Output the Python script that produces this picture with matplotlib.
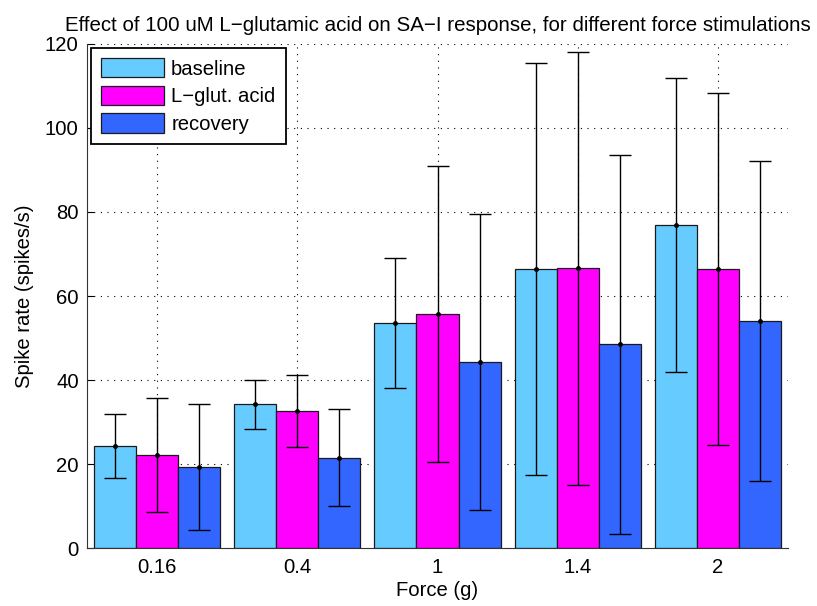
import matplotlib
matplotlib.use('Agg')
import matplotlib.pyplot as plt
import numpy as np

# force levels and mean spike rates with their standard deviations
forces = ['0.16', '0.4', '1', '1.4', '2']
series = ['baseline', 'L\u2212glut. acid', 'recovery']
baseline = [24.3, 34.2, 53.5, 66.4, 77.0]
glut = [22.2, 32.6, 55.7, 66.6, 66.5]
recovery = [19.3, 21.5, 44.3, 48.5, 54.0]
baseline_sd = [7.6, 5.9, 15.5, 49.0, 35.0]
glut_sd = [13.6, 8.6, 35.3, 51.5, 41.9]
recovery_sd = [14.9, 11.5, 35.2, 45.1, 38.1]
colors = ['#66CCFF', '#FF00FF', '#3366FF']

plt.rcParams['font.family'] = ['Liberation Sans', 'DejaVu Sans']
fs = 14.6

fig = plt.figure(figsize=(8.17, 6.06), dpi=100)
ax = fig.add_axes([0.1065, 0.0957, 0.858, 0.8317])

x = np.arange(1, len(forces) + 1)
width = 0.3
means = [baseline, glut, recovery]
sds = [baseline_sd, glut_sd, recovery_sd]
for i in range(3):
    pos = x + (i - 1) * width
    ax.bar(pos, means[i], width, color=colors[i], edgecolor='#1a1a1a',
           linewidth=0.9, label=series[i], zorder=2)
    ax.errorbar(pos, means[i], yerr=sds[i], fmt='o', color='black',
                markersize=2.5, elinewidth=1, capsize=8, capthick=1, zorder=3)

ax.set_xlim(0.5, 5.5)
ax.set_ylim(0, 120)
ax.set_xticks(x)
ax.set_xticklabels(forces)
ax.set_yticks(np.arange(0, 121, 20))
ax.tick_params(direction='in', labelsize=fs, length=5)
ax.tick_params(axis='x', pad=7)
ax.tick_params(axis='y', pad=6)
ax.grid(True, linestyle=(0, (1, 5)), color='black', linewidth=0.8)
ax.set_axisbelow(True)
for s in ['top', 'right']:
    ax.spines[s].set_visible(False)
ax.spines['left'].set_color('#333333')
ax.spines['bottom'].set_color('#333333')

ax.set_xlabel('Force (g)', fontsize=fs, labelpad=3)
ax.set_ylabel('Spike rate (spikes/s)', fontsize=fs, labelpad=8)
ax.set_title('Effect of 100 uM L\u2212glutamic acid on SA\u2212I response, for different force stimulations',
             fontsize=14.8, pad=9)

leg = ax.legend(loc='upper left', fontsize=fs, fancybox=False, framealpha=1,
                edgecolor='black', handlelength=3.1, handleheight=1.08,
                borderaxespad=0.2, borderpad=0.5, labelspacing=0.35,
                handletextpad=0.35)
leg.get_frame().set_linewidth(1.3)

fig.savefig('out.png', dpi=100)
